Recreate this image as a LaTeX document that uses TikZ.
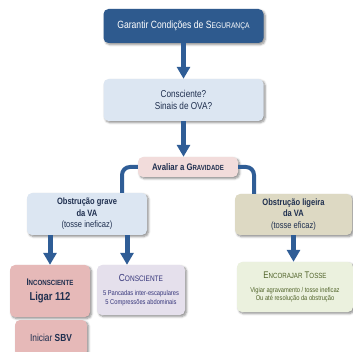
\documentclass[tikz,border=0pt]{standalone}
\usepackage{fontspec}
\setmainfont{Liberation Sans}[FakeStretch=0.82]
\usetikzlibrary{arrows.meta,shadows.blur}

\definecolor{navy}{HTML}{2E5A8E}
\definecolor{arrowblue}{HTML}{2F5D96}
\definecolor{txt}{HTML}{1F2F4F}
\definecolor{paleblue}{HTML}{DCE6F2}
\definecolor{palepink}{HTML}{F2DCDB}
\definecolor{khaki}{HTML}{DDD9C3}
\definecolor{rose}{HTML}{E6B9B8}
\definecolor{lavender}{HTML}{E5E0EC}
\definecolor{palegreen}{HTML}{EBF1DE}
\definecolor{olive}{HTML}{4F6228}
\definecolor{violettxt}{HTML}{35357A}

% first letter full size, the rest as smaller capitals
\newcommand\capsmall[2]{#1\scalebox{0.78}{#2}}
\newcommand\fs[2]{\fontsize{#1}{#2}\selectfont}

\tikzset{
  box/.style={rounded corners=5pt, align=center, inner sep=0pt, text=txt,
    blur shadow={shadow xshift=1.6pt, shadow yshift=-1.6pt,
                 shadow blur steps=6, shadow opacity=45}},
  arr/.style={draw=arrowblue, line width=5pt,
    -{Triangle[width=13pt,length=12pt]}},
  conn/.style={draw=arrowblue, line width=4pt, rounded corners=8pt}
}

\begin{document}
\begin{tikzpicture}[x=1pt,y=-1pt]
\useasboundingbox (0,0) rectangle (353,352);

% boxes
\node[box, fill=navy, text=white, minimum width=160pt, minimum height=34pt,
  font=\fs{10.5}{12}]
  (seg) at (183.5,26) {Garantir Condições de \capsmall{S}{EGURANÇA}};
\node[box, fill=paleblue, minimum width=160pt, minimum height=42pt,
  font=\fs{10}{11.5}]
  (cons) at (183.5,100) {Consciente?\\Sinais de OVA?};
\node[box, fill=palepink, minimum width=100pt, minimum height=20pt,
  font=\fs{9.5}{11}\bfseries]
  (aval) at (188,167) {Avaliar a \capsmall{G}{RAVIDADE}};
\node[box, fill=paleblue, minimum width=120pt, minimum height=42pt,
  font=\fs{9.2}{11.5}]
  (grave) at (87,214) {\textbf{Obstrução grave}\\\textbf{da VA}\\(tosse ineficaz)};
\node[box, fill=khaki, minimum width=117pt, minimum height=41pt,
  font=\fs{9.2}{11.5}]
  (lig) at (293.5,214.5) {\textbf{Obstrução ligeira}\\\textbf{da VA}\\(tosse eficaz)};
\node[box, fill=rose, minimum width=80pt, minimum height=52pt,
  font=\fs{9.6}{14}\bfseries]
  (inc) at (50,291) {\capsmall{I}{NCONSCIENTE}\\[1pt]{\fs{11.5}{13}Ligar 112}};
\node[box, fill=rose, minimum width=72pt, minimum height=36pt,
  font=\fs{10.2}{12}]
  (sbv) at (51,338) {Iniciar \textbf{SBV}};
\node[box, fill=lavender, text=violettxt, minimum width=88pt, minimum height=50pt,
  font=\fs{7}{8.3}]
  (csc) at (141,290) {{\fs{10.2}{12}\capsmall{C}{ONSCIENTE}}\\[6pt]
    5 Pancadas inter-escapulares\\5 Compressões abdominais};
\node[box, fill=palegreen, text=olive, minimum width=116pt, minimum height=50pt,
  font=\fs{7}{8.3}]
  (enc) at (295,287) {{\fs{9.6}{12}\capsmall{E}{NCORAJAR} \capsmall{T}{OSSE}}\\[6pt]
    Vigiar agravamento / tosse ineficaz\\Ou até resolução da obstrução};

% arrows
\draw[arr] (seg.south) -- (cons.north);
\draw[arr] (cons.south) -- (cons.south |- aval.north);
\draw[arr] (grave.south -| inc.north) -- (inc.north);
\draw[arr] ([xshift=-14pt]csc.north |- grave.south) -- ([xshift=-14pt]csc.north);
\draw[arr] (lig.south) -- (lig.south |- enc.north);

% branches from the severity box
\draw[conn] (aval.west) -| ([xshift=35pt]grave.north);
\draw[conn] (aval.east) -| ([xshift=-39.5pt]lig.north);
\end{tikzpicture}
\end{document}
